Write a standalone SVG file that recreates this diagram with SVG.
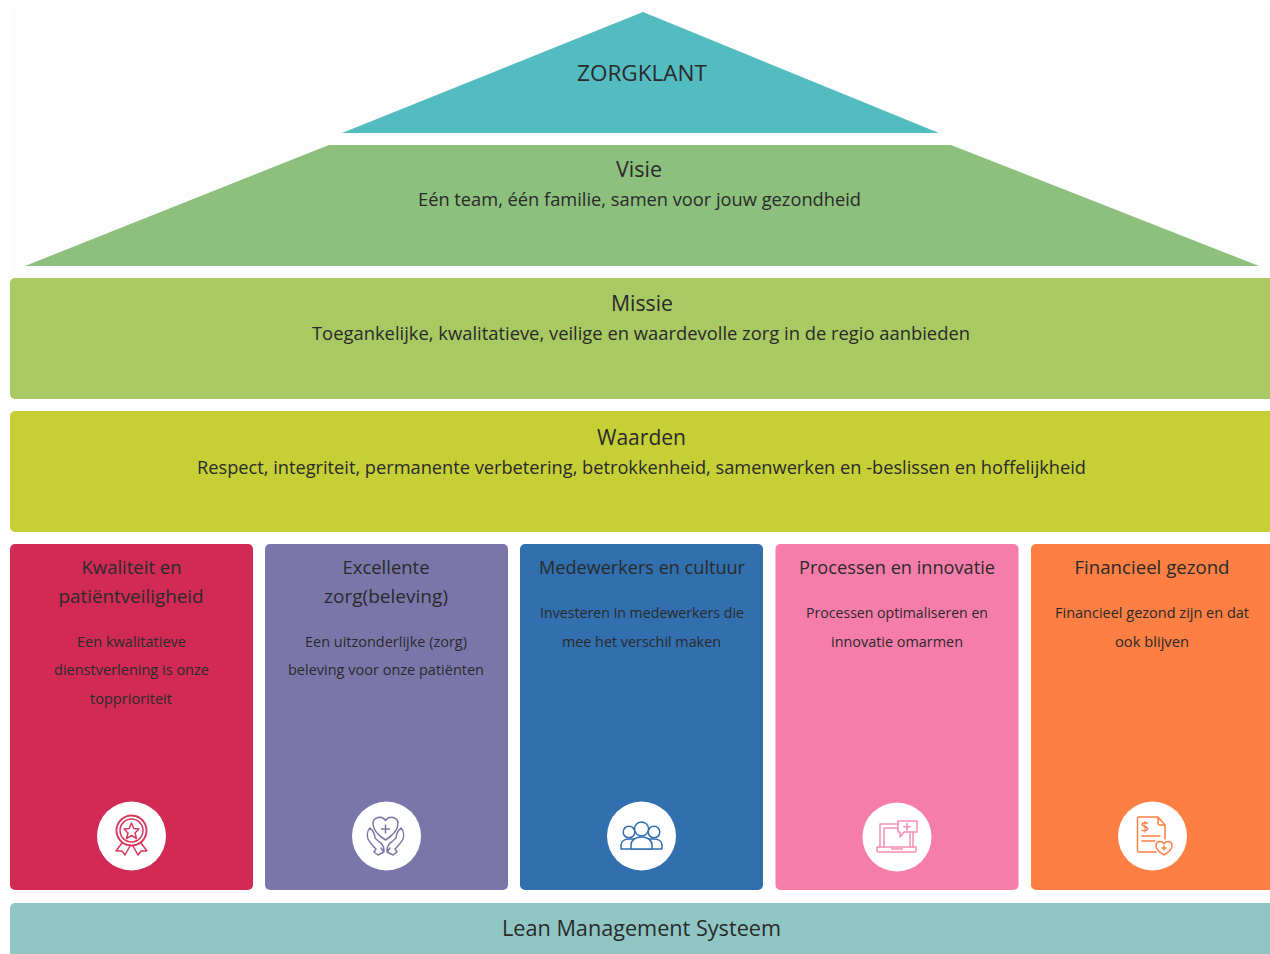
<svg xmlns="http://www.w3.org/2000/svg" width="1270" height="954" viewBox="0 0 1270 954">
<style>
text{font-family:"Open Sans","Noto Sans","Liberation Sans",sans-serif;fill:#2a2a2a;text-anchor:middle}
.h{font-size:22px}.s{font-size:19px}.t{font-size:19px}.b{font-size:15px}
.i{fill:none;stroke-width:1.5;stroke-linejoin:round;stroke-linecap:round}
.w{fill:#fff}
</style>
<rect width="1270" height="954" fill="#fff"/>
<rect x="10" y="8" width="1260" height="270" fill="#fdfdfd"/>
<g id="zorgklant"><polygon points="643,12 939,133 342,133" fill="#52bcc0"/><text class="h" x="642" y="81" textLength="130" lengthAdjust="spacingAndGlyphs">ZORGKLANT</text></g>
<g id="visie"><polygon points="329,145 951,145 1259,266 25,266" fill="#8dbf7d"/><text class="h" x="639" y="177" textLength="46" lengthAdjust="spacingAndGlyphs">Visie</text><text class="s" x="639.500" y="206" textLength="443" lengthAdjust="spacingAndGlyphs">Eén team, één familie, samen voor jouw gezondheid</text></g>
<g id="missie"><path d="M1270,278H15a5,5 0 0 0-5,5V394a5,5 0 0 0 5,5H1270Z" fill="#a9c963"/><text class="h" x="642" y="311" textLength="62" lengthAdjust="spacingAndGlyphs">Missie</text><text class="s" x="641" y="340" textLength="658" lengthAdjust="spacingAndGlyphs">Toegankelijke, kwalitatieve, veilige en waardevolle zorg in de regio aanbieden</text></g>
<g id="waarden"><path d="M1270,411H15a5,5 0 0 0-5,5V527a5,5 0 0 0 5,5H1270Z" fill="#c6cf36"/><text class="h" x="641.500" y="445" textLength="89" lengthAdjust="spacingAndGlyphs">Waarden</text><text class="s" x="641.500" y="474" textLength="889" lengthAdjust="spacingAndGlyphs">Respect, integriteit, permanente verbetering, betrokkenheid, samenwerken en -beslissen en hoffelijkheid</text></g>

<g id="kwaliteit"><rect x="10" y="544" width="243" height="346" rx="5" fill="#d02a55"/>
<text class="t" x="131.500" y="574" textLength="100" lengthAdjust="spacingAndGlyphs">Kwaliteit en</text><text class="t" x="131" y="603" textLength="145" lengthAdjust="spacingAndGlyphs">patiëntveiligheid</text>
<text class="b" x="131.500" y="647" textLength="109" lengthAdjust="spacingAndGlyphs">Een kwalitatieve</text><text class="b" x="131.500" y="675" textLength="155" lengthAdjust="spacingAndGlyphs">dienstverlening is onze</text><text class="b" x="131" y="704" textLength="82" lengthAdjust="spacingAndGlyphs">topprioriteit</text>
<circle cx="131.500" cy="836" r="34.500" fill="#fff"/>
<g class="i" stroke="#d9385f"><circle cx="131.500" cy="830.500" r="15" stroke-dasharray="3.500 1.200" stroke-width="2"/><circle cx="131.500" cy="830.500" r="11.500"/><polygon points="131.500,823 133.800,828.500 139,829 135,833 136.500,838.500 131.500,835.500 126.500,838.500 128,833 124,829 129.200,828.500"/><path d="M122,843L116,851L122,851L125,855L130,846M141,843L147,851L141,851L138,855L133,846"/></g></g>

<g id="excellente"><rect x="265" y="544" width="243" height="346" rx="5" fill="#7b76aa"/>
<text class="t" x="386" y="574" textLength="87" lengthAdjust="spacingAndGlyphs">Excellente</text><text class="t" x="386" y="603" textLength="124" lengthAdjust="spacingAndGlyphs">zorg(beleving)</text>
<text class="b" x="386" y="647" textLength="162" lengthAdjust="spacingAndGlyphs">Een uitzonderlijke (zorg)</text><text class="b" x="386" y="675" textLength="196" lengthAdjust="spacingAndGlyphs">beleving voor onze patiënten</text>
<circle cx="386.500" cy="836" r="34.500" fill="#fff"/>
<g class="i" stroke="#7b76aa"><path d="M385.500,840C376,834 373,828 373,823.500C373,817 382,815 385.500,820.500C389,815 398,817 398,823.500C398,828 395,834 385.500,840Z"/><path d="M385.500,825V833M381.500,829H389.500"/>
<path d="M370,828C367,831 367,836 368,839C370,843 373,846 376,849M370,828C373,830 375,835 375,838C377,840 379,842 381,843C383,845 384,848 384,851M376,849L374,852L378,855L384,852L381,848"/>
<path d="M401,828C404,831 404,836 403,839C401,843 398,846 395,849M401,828C398,830 396,835 396,838C394,840 392,842 390,843C388,845 387,848 387,851M395,849L397,852L393,855L387,852L390,848"/></g></g>

<g id="medewerkers"><rect x="520" y="544" width="243" height="346" rx="5" fill="#316fae"/>
<text class="t" x="642" y="574" textLength="206" lengthAdjust="spacingAndGlyphs">Medewerkers en cultuur</text>
<text class="b" x="642" y="618" textLength="204" lengthAdjust="spacingAndGlyphs">Investeren in medewerkers die</text><text class="b" x="641.500" y="647" textLength="159" lengthAdjust="spacingAndGlyphs">mee het verschil maken</text>
<circle cx="641.500" cy="836" r="34.500" fill="#fff"/>
<g class="i" stroke="#316fae"><circle class="w" cx="629" cy="832" r="5.800"/><circle class="w" cx="654" cy="832" r="5.800"/><path class="w" d="M631,849H621V845C621,841 625,839 629,839H654C658,839 662,841 662,845V849H652Z"/><circle class="w" cx="641.500" cy="829" r="7"/><path class="w" d="M631,849V845C631,840 636,837 641.500,837C647,837 652,840 652,845V849Z"/></g></g>

<g id="processen"><rect x="775.500" y="544" width="243" height="346" rx="5" fill="#f67daa"/>
<text class="t" x="897" y="574" textLength="196" lengthAdjust="spacingAndGlyphs">Processen en innovatie</text>
<text class="b" x="897" y="618" textLength="182" lengthAdjust="spacingAndGlyphs">Processen optimaliseren en</text><text class="b" x="897" y="647" textLength="132" lengthAdjust="spacingAndGlyphs">innovatie omarmen</text>
<circle cx="897" cy="837" r="34.500" fill="#fff"/>
<g class="i" stroke="#f78fb6"><path d="M898,824H880V847M884,847V828H898M913,833V847M910,833V847"/><path d="M877,847H916V851C916,851.500 915,852 914,852H879C878,852 877,851.500 877,851ZM892,847V849H902V847"/><path d="M898,821H917V832H904L900,837V832H898Z"/><path d="M907,823.500V830M903.800,826.800H910.200"/></g></g>

<g id="financieel"><path d="M1270,544H1036a5,5 0 0 0-5,5V885a5,5 0 0 0 5,5H1270Z" fill="#fd7f43"/>
<text class="t" x="1152" y="574" textLength="155" lengthAdjust="spacingAndGlyphs">Financieel gezond</text>
<text class="b" x="1152" y="618" textLength="194" lengthAdjust="spacingAndGlyphs">Financieel gezond zijn en dat</text><text class="b" x="1152" y="647" textLength="74" lengthAdjust="spacingAndGlyphs">ook blijven</text>
<circle cx="1152.500" cy="836" r="34.500" fill="#fff"/>
<g class="i" stroke="#fd7f43"><path d="M1156,852H1139C1138,852 1137.500,851.500 1137.500,850V819C1137.500,818 1138,817 1139,817H1158L1165,825V839M1158,817V823C1158,824 1159,825 1160,825H1165"/><path d="M1142,836H1160M1142,841H1155"/><path d="M1164,855C1159,852 1156,849 1156,845.500C1156,841 1162,840 1164,844C1166,840 1172,841 1172,845.500C1172,849 1169,852 1164,855Z"/><path d="M1164,846V850M1162,848H1166"/></g><text x="1145" y="832" style="font-size:14px;fill:#fd7f43;font-weight:600">$</text></g>

<g id="lean"><path d="M1270,903H15a5,5 0 0 0-5,5V954H1270Z" fill="#8fc6c4"/><text class="h" x="641.500" y="936" textLength="279" lengthAdjust="spacingAndGlyphs">Lean Management Systeem</text></g>
</svg>
